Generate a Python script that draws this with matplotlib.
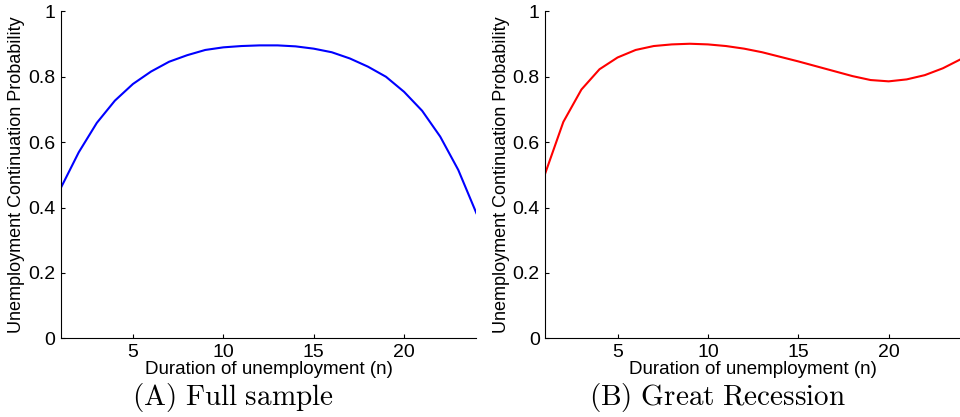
import numpy as np
import matplotlib.pyplot as plt

plt.rcParams['font.family'] = ['Liberation Sans', 'DejaVu Sans']
plt.rcParams['mathtext.fontset'] = 'cm'

# duracion del desempleo (meses)
n = np.arange(1, 25)

# probabilidad de continuar desempleado, muestra completa
full_sample = [0.459, 0.569, 0.659, 0.727, 0.778, 0.816, 0.846, 0.866,
               0.882, 0.890, 0.894, 0.896, 0.896, 0.893, 0.886, 0.875,
               0.856, 0.831, 0.800, 0.754, 0.696, 0.617, 0.515, 0.383]

# gran recesion
great_recession = [0.505, 0.662, 0.761, 0.823, 0.859, 0.882, 0.894, 0.899,
                   0.901, 0.899, 0.894, 0.886, 0.875, 0.861, 0.847, 0.832,
                   0.817, 0.802, 0.790, 0.786, 0.792, 0.805, 0.826, 0.854]

yticks = [0, 0.2, 0.4, 0.6, 0.8, 1]
ytick_labels = ['0', '0.2', '0.4', '0.6', '0.8', '1']
xticks = [5, 10, 15, 20]

fig = plt.figure(figsize=(9.6, 4.17), dpi=100)


def panel(rect, y, color, caption, cap_x):
    ax = fig.add_axes(rect)
    ax.plot(n, y, color=color, lw=1.5)
    ax.set_xlim(1, 24)
    ax.set_ylim(0, 1)
    ax.set_xticks(xticks)
    ax.set_yticks(yticks)
    ax.set_yticklabels(ytick_labels)
    ax.spines['top'].set_visible(False)
    ax.spines['right'].set_visible(False)
    ax.tick_params(direction='in', length=3, width=0.8, labelsize=14, pad=4)
    ax.tick_params(axis='x', pad=4)
    ax.set_xlabel('Duration of unemployment (n)', fontsize=13.5, labelpad=0)
    ax.set_ylabel('Unemployment Continuation Probability', fontsize=13, labelpad=2)
    fig.text(cap_x, 0.047, caption, fontsize=21, ha='center', va='center')
    return ax


panel([0.0632, 0.1887, 0.433, 0.784], full_sample, '#0000ff',
      r'$\mathrm{(A)\ Full\ sample}$', 0.243)
panel([0.568, 0.1887, 0.433, 0.784], great_recession, '#ff0000',
      r'$\mathrm{(B)\ Great\ Recession}$', 0.747)

fig.savefig('out.png', dpi=100)
